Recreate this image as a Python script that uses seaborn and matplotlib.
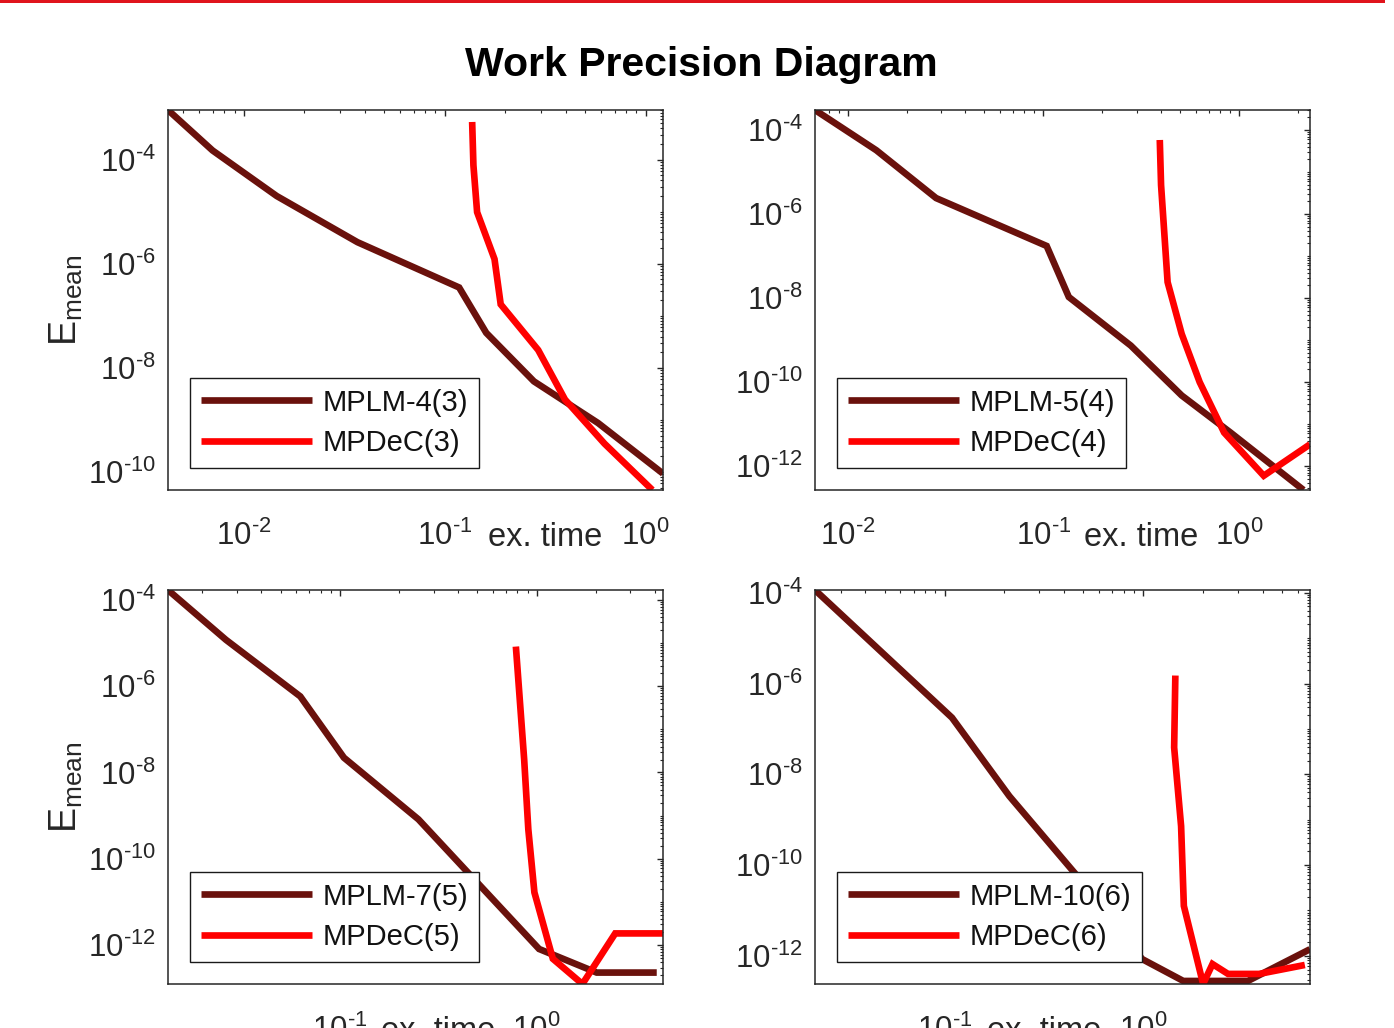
import numpy as np
import pandas as pd
import matplotlib
matplotlib.use("Agg")
import matplotlib.pyplot as plt
import seaborn as sns
from matplotlib.ticker import LogLocator, NullFormatter, FuncFormatter
from matplotlib.patches import Rectangle

# ---------------- data ----------------
mplm4_time = [0.0042, 0.0070, 0.0146, 0.0368, 0.118, 0.161, 0.278, 0.58, 1.22]
mplm4_err = [9.0e-4, 1.5e-4, 2.0e-5, 2.6e-6, 3.5e-7, 4.7e-8, 5.5e-9, 8.7e-10, 9.3e-11]
mpdec3_time = [0.137, 0.139, 0.145, 0.177, 0.190, 0.292, 0.397, 0.624, 1.08]
mpdec3_err = [5.3e-4, 7.8e-5, 9.8e-6, 1.23e-6, 1.66e-7, 2.2e-8, 2.46e-9, 3.5e-10, 4.5e-11]

mplm5_time = [0.0068, 0.014, 0.0283, 0.104, 0.135, 0.28, 0.51, 0.906, 2.14]
mplm5_err = [3.0e-4, 3.3e-5, 2.4e-6, 1.74e-7, 1.06e-8, 7.4e-10, 4.8e-11, 6.3e-12, 2.7e-13]
mpdec4_time = [0.394, 0.400, 0.432, 0.51, 0.63, 0.84, 1.34, 2.31]
mpdec4_err = [5.8e-5, 4.9e-6, 2.4e-8, 1.4e-9, 1.0e-10, 6.3e-12, 5.9e-13, 3.3e-12]

mplm7_time = [0.0134, 0.0264, 0.063, 0.105, 0.251, 1.03, 2.02, 4.08]
mplm7_err = [1.7e-4, 1.19e-5, 5.8e-7, 2.2e-8, 8.2e-10, 8.1e-13, 2.3e-13, 2.3e-13]
mpdec5_time = [0.785, 0.865, 0.908, 0.975, 1.21, 1.71, 2.51, 4.39]
mpdec5_err = [8.3e-6, 2.0e-8, 4.8e-10, 1.66e-11, 4.8e-13, 1.25e-13, 1.86e-12, 1.86e-12]

mplm10_time = [0.0223, 0.109, 0.212, 0.457, 0.987, 1.59, 3.36, 6.9]
mplm10_err = [1.15e-4, 1.77e-7, 3.3e-9, 6.3e-11, 8.5e-13, 2.8e-13, 2.8e-13, 1.4e-12]
mpdec6_time = [1.45, 1.43, 1.55, 1.60, 2.0, 2.23, 2.67, 3.82, 6.5]
mpdec6_err = [1.5e-6, 3.9e-8, 7.2e-10, 1.26e-11, 2.4e-13, 6.6e-13, 4.0e-13, 4.0e-13, 6.3e-13]

panel_labels = [("MPLM-4(3)", "MPDeC(3)"), ("MPLM-5(4)", "MPDeC(4)"),
                ("MPLM-7(5)", "MPDeC(5)"), ("MPLM-10(6)", "MPDeC(6)")]
title_text = "Work Precision Diagram"
xlabel_text = "ex. time"
ylabel_text = r"E$_{\mathregular{mean}}$"

# ---------------- style ----------------
sns.set_style("white")
plt.rcParams["font.family"] = ["Liberation Sans", "DejaVu Sans"]
plt.rcParams["mathtext.fontset"] = "custom"
plt.rcParams["mathtext.rm"] = "Liberation Sans"
plt.rcParams["mathtext.it"] = "Liberation Sans:italic"
plt.rcParams["mathtext.bf"] = "Liberation Sans:bold"
plt.rcParams["axes.unicode_minus"] = False

DARK = "#6a110c"
RED = "#ff0000"
AXC = "#262626"


def pow10_label(v, pos):
    e = int(round(np.log10(v)))
    sign = "\u2010" if e < 0 else ""
    return r"$\mathregular{10^{%s%d}}$" % (sign, abs(e))


W, H = 1394, 1028
fig = plt.figure(figsize=(W / 100, H / 100), dpi=100)

# axes boxes in pixels (left, top, right, bottom)
boxes = [(168, 110, 663, 490), (815, 110, 1310, 490),
         (168, 590, 663, 984), (815, 590, 1310, 984)]

series = [
    (mplm4_time, mplm4_err, mpdec3_time, mpdec3_err),
    (mplm5_time, mplm5_err, mpdec4_time, mpdec4_err),
    (mplm7_time, mplm7_err, mpdec5_time, mpdec5_err),
    (mplm10_time, mplm10_err, mpdec6_time, mpdec6_err),
]

for i, ((l, t, r, b), (xt1, ye1, xt2, ye2), (lab1, lab2)) in enumerate(
        zip(boxes, series, panel_labels)):
    ax = fig.add_axes([l / W, 1 - b / H, (r - l) / W, (b - t) / H])
    df = pd.concat([
        pd.DataFrame({"time": xt1, "err": ye1, "method": lab1}),
        pd.DataFrame({"time": xt2, "err": ye2, "method": lab2}),
    ])
    sns.lineplot(data=df, x="time", y="err", hue="method", hue_order=[lab1, lab2],
                 palette=[DARK, RED], sort=False, estimator=None, linewidth=4.8,
                 legend=False, ax=ax)
    for ln in ax.lines:
        ln.set_solid_joinstyle("miter")
        ln.set_solid_capstyle("butt")
    ax.set_xscale("log")
    ax.set_yscale("log")
    ax.margins(0)
    ax.autoscale(tight=True)

    ax.xaxis.set_major_locator(LogLocator(base=10, numticks=20))
    ax.xaxis.set_major_formatter(FuncFormatter(pow10_label))
    ax.xaxis.set_minor_locator(LogLocator(base=10, subs=np.arange(2, 10), numticks=200))
    ax.xaxis.set_minor_formatter(NullFormatter())
    ax.yaxis.set_major_locator(LogLocator(base=100, numticks=20))
    ax.yaxis.set_major_formatter(FuncFormatter(pow10_label))
    ax.yaxis.set_minor_locator(LogLocator(base=10, subs=np.arange(1, 10), numticks=200))
    ax.yaxis.set_minor_formatter(NullFormatter())

    ax.tick_params(which="both", direction="in", top=True, right=True,
                   color=AXC, labelcolor=AXC)
    ax.tick_params(which="major", length=4.5, width=1.0, labelsize=22.5)
    ax.tick_params(which="minor", length=2.5, width=0.8)
    ax.tick_params(axis="x", which="major", pad=22)
    ax.tick_params(axis="y", which="major", pad=9)
    for sp in ax.spines.values():
        sp.set_color(AXC)
        sp.set_linewidth(1.1)
        sp.set_visible(True)

    ax.set_xlabel("")
    ax.set_ylabel("")
    # x label sits between the 10^-1 and 10^0 tick labels
    ax.annotate(xlabel_text, xy=(10 ** -0.5, 0), xycoords=("data", "axes fraction"),
                xytext=(0, -40), textcoords="offset points", ha="center",
                va="baseline", fontsize=23.5, color=AXC, annotation_clip=False)
    if i % 2 == 0:
        ax.set_ylabel(ylabel_text, fontsize=27, color=AXC)
        ax.yaxis.set_label_coords(-0.168, 0.5)

    bottom_pad = 22 / (b - t)
    leg = ax.legend(ax.lines[:2], [lab1, lab2], loc="lower left",
                    bbox_to_anchor=(22 / (r - l), bottom_pad), borderaxespad=0,
                    fontsize=21, handlelength=3.8, handletextpad=0.36,
                    borderpad=0.38, labelspacing=0.42, fancybox=False,
                    framealpha=1, edgecolor="#1a1a1a")
    leg.get_frame().set_linewidth(1.0)
    for txt in leg.get_texts():
        txt.set_color("#111111")

fig.suptitle(title_text, fontsize=29.5, fontweight="bold", x=701 / W, y=1 - 65 / H,
             va="center", color="black")

# thin red stripe along the top edge
fig.add_artist(Rectangle((0, 1 - 3 / H), 1385 / W, 3 / H, transform=fig.transFigure,
                         facecolor="#e0141c", edgecolor="none"))

fig.savefig("out.png", dpi=100)
